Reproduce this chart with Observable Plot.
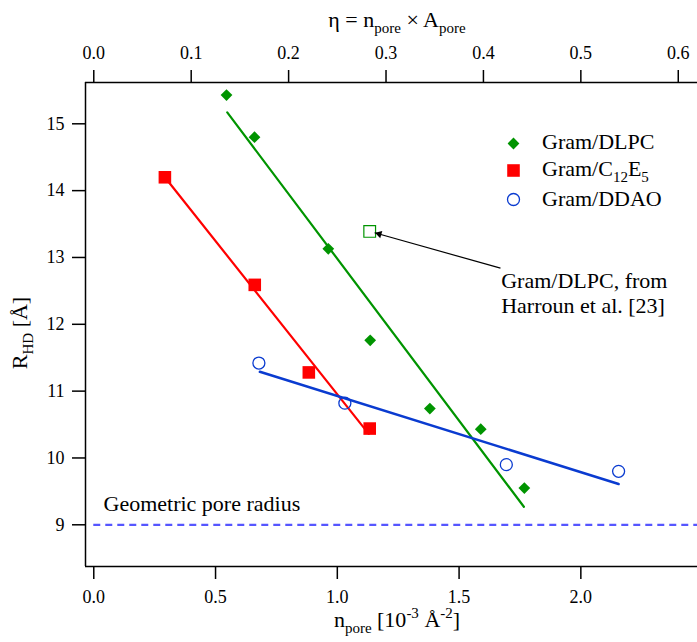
<!DOCTYPE html>
<html>
<head>
<meta charset="utf-8">
<script src="https://cdn.jsdelivr.net/npm/d3@7"></script>
<script src="https://cdn.jsdelivr.net/npm/@observablehq/plot@0.6"></script>
<style>
  html, body { margin: 0; padding: 0; background: white; }
  svg text { font-family: "Liberation Serif", "Times New Roman", serif; }
</style>
</head>
<body>
<div id="chart"></div>
<script>
// ---- data ----
const dlpcN = [0.545, 0.660, 0.963, 1.135, 1.380, 1.589, 1.768];
const dlpcR = [15.43, 14.80, 13.13, 11.76, 10.74, 10.43, 9.55];
const c12N  = [0.292, 0.661, 0.883, 1.133];
const c12R  = [14.20, 12.59, 11.28, 10.44];
const ddaoN = [0.678, 1.031, 1.694, 2.155];
const ddaoR = [11.42, 10.82, 9.90, 9.80];
const harrounN = [1.133];
const harrounR = [13.39];
// fitted lines (end points)
const dlpcFitN = [0.548, 1.766];
const dlpcFitR = [15.17, 9.27];
const c12FitN  = [0.292, 1.129];
const c12FitR  = [14.20, 10.36];
const ddaoFitN = [0.682, 2.155];
const ddaoFitR = [11.29, 9.61];
const poreRadius = 9;
// annotation arrow (tail, head)
const arrowTail = [1.670, 12.84];
const arrowHead = [1.153, 13.37];
// ticks
const xTicks = [0, 0.5, 1.0, 1.5, 2.0];
const etaTicks = [0, 0.1, 0.2, 0.3, 0.4, 0.5, 0.6];
const Apore = 0.25; // eta = n_pore * A_pore
const yTicks = [9, 10, 11, 12, 13, 14, 15];
const xDomain = [-0.034, 2.479];
const yDomain = [8.376, 15.618];

const green = "#009400", red = "#ff0000", blue = "#0a3bd0", dashBlue = "#5656ff";

const zip = (a, b) => a.map((v, i) => ({x: v, y: b[i]}));

const plot = Plot.plot({
  width: 697, height: 642,
  marginLeft: 85, marginRight: 0, marginTop: 82, marginBottom: 76,
  x: {domain: xDomain},
  y: {domain: yDomain},
  style: {fontFamily: "Liberation Serif", fontSize: "18px", color: "black", background: "white"},
  marks: [
    Plot.ruleY([poreRadius], {x1: 0, x2: xDomain[1], stroke: dashBlue, strokeWidth: 2.2, strokeDasharray: "7,5"}),
    Plot.line(zip(dlpcFitN, dlpcFitR), {x: "x", y: "y", stroke: green, strokeWidth: 2.2}),
    Plot.line(zip(c12FitN, c12FitR), {x: "x", y: "y", stroke: red, strokeWidth: 2.2}),
    Plot.line(zip(ddaoFitN, ddaoFitR), {x: "x", y: "y", stroke: blue, strokeWidth: 2.5}),
    Plot.dot(zip(dlpcN, dlpcR), {x: "x", y: "y", symbol: "diamond2", r: 5.3, fill: green, stroke: "none"}),
    Plot.dot(zip(c12N, c12R), {x: "x", y: "y", symbol: "square", r: 7.1, fill: red, stroke: "none"}),
    Plot.dot(zip(ddaoN, ddaoR), {x: "x", y: "y", symbol: "circle", r: 6, fill: "none", stroke: blue, strokeWidth: 1.3}),
    Plot.dot(zip(harrounN, harrounR), {x: "x", y: "y", symbol: "square", r: 6.6, fill: "none", stroke: green, strokeWidth: 1.2}),
    Plot.link([{x1: arrowTail[0], y1: arrowTail[1], x2: arrowHead[0], y2: arrowHead[1]}],
      {x1: "x1", y1: "y1", x2: "x2", y2: "y2", stroke: "black", strokeWidth: 1.2}),
    Plot.dot([{x: arrowHead[0], y: arrowHead[1]}], {x: "x", y: "y", symbol: "triangle2", r: 3.6, fill: "black", stroke: "none",
      rotate: -74, dx: 4.6, dy: 1.3}),
    Plot.text(["Geometric pore radius"], {x: 0.040, y: 9.205, text: d => d, textAnchor: "start", lineAnchor: "bottom", fontSize: 22}),
    Plot.text(["Gram/DLPC, from", "Harroun et al. [23]"], {x: 1.673, y: [12.536, 12.162], text: d => d, textAnchor: "start", lineAnchor: "bottom", fontSize: 22}),
    // legend symbols
    Plot.dot([0], {frameAnchor: "top-left", dx: 428, dy: 61, symbol: "diamond2", r: 5.3, fill: green, stroke: "none"}),
    Plot.dot([0], {frameAnchor: "top-left", dx: 428, dy: 88, symbol: "square", r: 7.1, fill: red, stroke: "none"}),
    Plot.dot([0], {frameAnchor: "top-left", dx: 428, dy: 117, symbol: "circle", r: 6, fill: "none", stroke: blue, strokeWidth: 1.3}),
    // frame (left, top, bottom)
    Plot.ruleX([xDomain[0]], {stroke: "black", strokeWidth: 1.5}),
    Plot.ruleY(yDomain, {stroke: "black", strokeWidth: 1.5}),
    // axes
    Plot.axisX(xTicks, {anchor: "bottom", tickSize: 13, tickPadding: 11, strokeWidth: 1.5, tickFormat: d => d.toFixed(1), label: null, fontSize: 18}),
    Plot.axisX(etaTicks.map(e => e / Apore), {anchor: "top", tickSize: 13, tickPadding: 11, strokeWidth: 1.5, tickFormat: d => (d * Apore).toFixed(1), label: null, fontSize: 18}),
    Plot.axisY(yTicks, {anchor: "left", tickSize: 13, tickPadding: 8, strokeWidth: 1.5, tickFormat: d => String(d), label: null, fontSize: 18})
  ]
});
document.getElementById("chart").appendChild(plot);

// ---- titles & legend labels with sub/superscripts ----
const svg = d3.select(plot);
function rich(parent, parts, attrs) {
  const t = parent.append("text").attr("fill", "black").attr("font-size", 22)
    .attr("text-anchor", "start")
    .style("font-family", "Liberation Serif");
  Object.entries(attrs).forEach(([k, v]) => t.attr(k, v));
  let shift = 0;
  parts.forEach(p => {
    const [s, kind] = Array.isArray(p) ? p : [p, "n"];
    const target = kind === "sub" ? 6 : kind === "sup" ? -9 : 0;
    t.append("tspan").attr("dy", target - shift).attr("font-size", kind === "n" ? 22 : 15).text(s);
    shift = target;
  });
  return t;
}
rich(svg, ["η = n", ["pore", "sub"], " × A", ["pore", "sub"]], {x: 397, y: 27, "text-anchor": "middle"});
rich(svg, ["n", ["pore", "sub"], " [10", ["-3", "sup"], " Å", ["-2", "sup"], "]"], {x: 397, y: 627, "text-anchor": "middle"});
rich(svg, ["R", ["HD", "sub"], " [Å]"], {transform: "translate(27,333) rotate(-90)", "text-anchor": "middle"});
rich(svg, ["Gram/DLPC"], {x: 542, y: 149});
rich(svg, ["Gram/C", ["12", "sub"], "E", ["5", "sub"]], {x: 542, y: 176});
rich(svg, ["Gram/DDAO"], {x: 542, y: 206});
</script>
</body>
</html>
